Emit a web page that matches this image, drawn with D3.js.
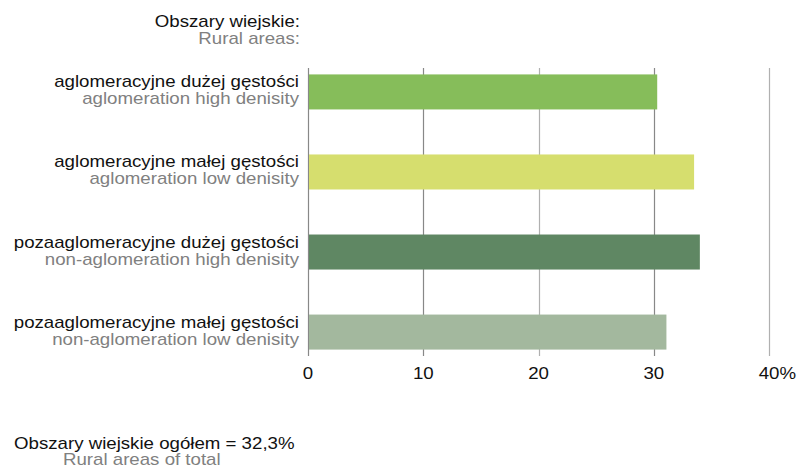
<!DOCTYPE html>
<html>
<head>
<meta charset="utf-8">
<script src="https://cdn.jsdelivr.net/npm/d3@7"></script>
<style>
body { margin: 0; background: #fff; }
text { font-family: "Liberation Sans", Arial, sans-serif; font-size: 16px; }
</style>
</head>
<body>
<div id="chart"></div>
<script>
// data
var labelsPl = ["aglomeracyjne dużej gęstości", "aglomeracyjne małej gęstości",
    "pozaaglomeracyjne dużej gęstości", "pozaaglomeracyjne małej gęstości"];
var labelsEn = ["aglomeration high denisity", "aglomeration low denisity",
    "non-aglomeration high denisity", "non-aglomeration low denisity"];
var values = [30.3, 33.5, 34.0, 31.1];
var colors = ["#86bd5a", "#d6de6e", "#5f8763", "#a3b89e"];
var ticks = [0, 10, 20, 30, 40];
var tickLabels = ["0", "10", "20", "30", "40"];

var width = 798, height = 469;
var sx = 1.167; // text in the original is horizontally stretched

var svg = d3.select("#chart").append("svg")
    .attr("width", width)
    .attr("height", height);

var x = d3.scaleLinear().domain([0, 40]).range([308, 769]);
var y = d3.scaleBand().domain(d3.range(values.length))
    .range([52, 372]).paddingInner(0.5625).paddingOuter(0.28);

// helper: stretched text at screen position (px, py)
function stext(g, px, py, anchor, fill, str) {
    return g.append("text")
        .attr("transform", "translate(" + px + "," + py + ") scale(" + sx + ",1)")
        .attr("text-anchor", anchor)
        .attr("fill", fill)
        .text(str);
}

// gridlines
svg.append("g").selectAll("line")
    .data(ticks)
    .enter().append("line")
    .attr("x1", function (d) { return Math.round(x(d)) + 0.5; })
    .attr("x2", function (d) { return Math.round(x(d)) + 0.5; })
    .attr("y1", 68)
    .attr("y2", 356)
    .attr("stroke", function (d, i) { return i % 2 == 0 && i > 0 ? "#b0b0b0" : "#888"; })
    .attr("stroke-width", 1.2);

// bars
svg.append("g").selectAll("rect")
    .data(values)
    .enter().append("rect")
    .attr("x", x(0) + 1)
    .attr("y", function (d, i) { return y(i); })
    .attr("width", function (d) { return x(d) - x(0) - 1; })
    .attr("height", y.bandwidth())
    .attr("fill", function (d, i) { return colors[i]; });

// tick labels (number centred on the tick, "%" hanging after the last one)
var tg = svg.append("g");
ticks.forEach(function (d, i) {
    var t = stext(tg, x(d), 379, "middle", "#111", tickLabels[i]);
    if (i == ticks.length - 1) {
        var w = t.node().getComputedTextLength() * sx;
        stext(tg, x(d) + w / 2, 379, "start", "#111", "%");
    }
});

// category labels
var cat = svg.append("g");
labelsPl.forEach(function (d, i) {
    var cy = y(i) + y.bandwidth() / 2;
    stext(cat, 299, cy - 4.5, "end", "#111", d);
    stext(cat, 299, cy + 12.5, "end", "#808080", labelsEn[i]);
});

// header
stext(svg, 300, 27, "end", "#111", "Obszary wiejskie:");
stext(svg, 300, 44, "end", "#808080", "Rural areas:");

// footer
stext(svg, 14, 449, "start", "#111", "Obszary wiejskie ogółem = 32,3%");
stext(svg, 63, 465, "start", "#808080", "Rural areas of total");
</script>
</body>
</html>
